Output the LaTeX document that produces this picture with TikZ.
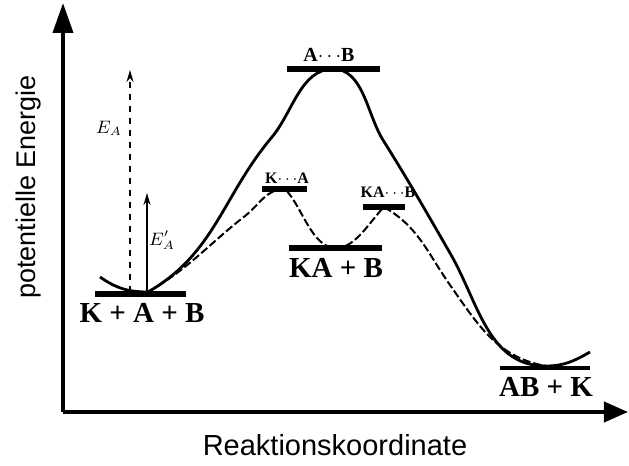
\documentclass[tikz,border=0pt]{standalone}
\usepackage{fontspec}
\setmainfont{Liberation Serif}
\setsansfont{Liberation Sans}
\usetikzlibrary{calc, arrows.meta, positioning}

\begin{document}
\begin{tikzpicture}[x=0.5pt, y=-0.5pt,
    level/.style={line width=3.2pt},
    state/.style={font=\bfseries\fontsize{14.5}{15}\selectfont, inner sep=0pt},
    small state/.style={font=\bfseries\fontsize{8}{9}\selectfont, inner sep=0pt},
    axis title/.style={font=\sffamily\fontsize{13.5}{15}\selectfont, inner sep=0pt}]
    \useasboundingbox (0,0) rectangle (629,466);

    % Axes (pixel grid of the scan, y pointing down)
    \coordinate (O) at (63,412);
    \coordinate (Ytip) at (63,3);
    \coordinate (Xtip) at (628,412);
    \draw[line width=2pt, -{Triangle[length=15pt,width=10pt]}] (O) -- (Ytip);
    \draw[line width=2pt, -{Triangle[length=12pt,width=10pt]}] (O) -- (Xtip);

    % Energy levels
    \coordinate (E0) at (150,294);          % K + A + B
    \coordinate (TS) at (333,69);           % A...B (uncatalysed)
    \coordinate (TS1) at (285,189);         % K...A
    \coordinate (IM) at (336,248);          % KA + B
    \coordinate (TS2) at (384,207);         % KA...B
    \coordinate (E1) at (545,368);          % AB + K

    \draw[level] ($(E0)+(-55,0)$) -- ($(E0)+(36,0)$);
    \draw[level] ($(TS)+(-46,0)$) -- ($(TS)+(47,0)$);
    \draw[level] ($(TS1)+(-23,0)$) -- ($(TS1)+(22,0)$);
    \draw[line width=2.6pt] ($(IM)+(-47,0)$) -- ($(IM)+(46,0)$);
    \draw[level] ($(TS2)+(-21,0)$) -- ($(TS2)+(21,0)$);
    \draw[line width=2.4pt] ($(E1)+(-45,0)$) -- ($(E1)+(45,0)$);

    % Reaction paths
    \coordinate (H) at (100,277);           % left end of both paths
    \coordinate (M0) at (148,292);
    \coordinate (M1) at (546,366);
    \draw[line width=1.4pt]
        (H) to[out=-35,in=180] (M0)
            to[out=30,in=230] (272,137)
            to[out=50,in=180,looseness=0.9] (TS)
            to[out=0,in=122,looseness=0.9] (383,140)
            to[out=-58,in=120] (450,253)
            to[out=-60,in=180] (M1)
            to[out=0,in=210] (590,352);
    \draw[line width=1pt, dash pattern=on 4pt off 1.5pt]
        (M0) to[out=30,in=218] (245,216)
             to[out=38,in=180] (TS1)
             to[out=-45,in=180,looseness=0.8] (IM)
             to[out=0,in=225,looseness=0.8] (TS2)
             to[out=-30,in=125] (450,285)
             to[out=-55,in=170] (M1);

    % Activation energies
    \coordinate (A0) at (130,292);
    \coordinate (A1) at (130,70);
    \coordinate (B0) at (147,292);
    \coordinate (B1) at (147,193);
    \draw[line width=0.8pt, dashed, -{Stealth[length=6pt,width=3.5pt]}] (A0) -- (A1);
    \draw[line width=0.9pt, -{Stealth[length=6pt,width=3.5pt]}] (B0) -- (B1);
    \node[font=\fontsize{9}{9}\selectfont, inner sep=0pt] (EA) at (109,128) {$E_A$};
    \node[font=\fontsize{9}{9}\selectfont, inner sep=0pt] (EAk) at (162,240) {$E_A'$};

    % Labels
    \node[state] (lE0) at (142,313) {K + A + B};
    \node[state, font=\bfseries\fontsize{10}{10}\selectfont] (lTS) at (329,55) {A$\cdots$B};
    \node[small state] (lTS1) at (287,178) {K$\cdots$A};
    \node[state] (lIM) at (336,268) {KA + B};
    \node[small state] (lTS2) at (388,192) {KA$\cdots$B};
    \node[state] (lE1) at (546,387) {AB + K};

    \node[axis title, rotate=90] (ylab) at (29,187) {potentielle Energie};
    \node[axis title, font=\sffamily\fontsize{14.5}{16}\selectfont] (xlab) at (335,445) {Reaktionskoordinate};
\end{tikzpicture}
\end{document}
